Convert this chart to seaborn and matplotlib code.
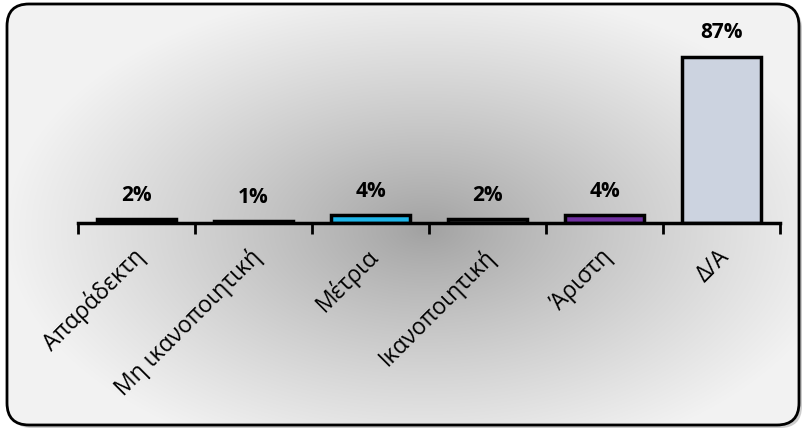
import numpy as np
import pandas as pd
import matplotlib
matplotlib.use("Agg")
import matplotlib.pyplot as plt
import matplotlib.transforms as mtransforms
import seaborn as sns
from matplotlib.patches import FancyBboxPatch

categories = ["Απαράδεκτη", "Μη ικανοποιητική", "Μέτρια", "Ικανοποιητική", "Άριστη", "Δ/Α"]
values = [2, 1, 4, 2, 4, 87]
value_labels = ["2%", "1%", "4%", "2%", "4%", "87%"]
bar_colors = ["#000000", "#262626", "#1FB5E8", "#3A3A3A", "#7030A0", "#CCD3E0"]

sns.set_theme(style="white")
plt.rcParams["font.family"] = ["Open Sans", "DejaVu Sans"]

W, H = 806, 431
fig = plt.figure(figsize=(W / 100, H / 100), dpi=100)
fig.patch.set_facecolor("white")

# background with radial gradient and rounded border
bg = fig.add_axes([0, 0, 1, 1], zorder=0)
bg.set_xlim(0, W)
bg.set_ylim(H, 0)
bg.axis("off")
yy, xx = np.mgrid[0:H, 0:W]
d = np.sqrt(((xx - 425) / 420) ** 2 + ((yy - 230) / 245) ** 2)
d = np.clip(d, 0, 1) ** 0.85
g = 0.63 + (0.95 - 0.63) * d
img = np.dstack([g, g, g])
clip = FancyBboxPatch((7, 5), 792, 421, boxstyle="round,pad=0,rounding_size=22",
                      transform=bg.transData, facecolor="none", edgecolor="none")
bg.add_patch(clip)
im = bg.imshow(img, extent=(0, W, H, 0), interpolation="bilinear", zorder=1)
im.set_clip_path(clip)
shadow = FancyBboxPatch((10, 8), 792, 421, boxstyle="round,pad=0,rounding_size=22",
                        facecolor="#9a9a9a", edgecolor="none", alpha=0.5, zorder=0.5)
bg.add_patch(shadow)
border = FancyBboxPatch((7, 5), 792, 421, boxstyle="round,pad=0,rounding_size=22",
                        facecolor="none", edgecolor="black", linewidth=2, zorder=3)
bg.add_patch(border)

# main axes
ax = fig.add_axes([78 / W, 1 - 224 / H, (780 - 78) / W, (224 - 33) / H], zorder=2)
ax.patch.set_alpha(0)
df = pd.DataFrame({"cat": categories, "val": values})
sns.barplot(data=df, x="cat", y="val", hue="cat", palette=bar_colors, legend=False,
            width=0.68, edgecolor="black", linewidth=2.5, ax=ax, saturation=1)
ax.set_ylim(0, 100)
ax.set_xlim(-0.5, len(categories) - 0.5)
ax.set_xlabel("")
ax.set_ylabel("")
ax.set_yticks([])
for s in ["left", "right", "top"]:
    ax.spines[s].set_visible(False)
ax.spines["bottom"].set_linewidth(2.5)
ax.spines["bottom"].set_color("black")

ax.set_xticks(range(len(categories)))
ax.set_xticklabels(categories, rotation=45, ha="right", va="center", rotation_mode="anchor",
                   fontsize=16.5, color="black")
ax.tick_params(axis="x", which="major", length=0, pad=0)
offset = mtransforms.ScaledTranslation(4 / 100, -29 / 100, fig.dpi_scale_trans)
for lab in ax.get_xticklabels():
    lab.set_transform(lab.get_transform() + offset)
ax.set_xticks(np.arange(-0.5, len(categories), 1), minor=True)
ax.tick_params(axis="x", which="minor", length=8, width=2, color="black", direction="out")
ax.xaxis.set_tick_params(which="minor", bottom=True)

for i, (v, lab) in enumerate(zip(values, value_labels)):
    ax.annotate(lab, (i, v), xytext=(0, 25), textcoords="offset pixels",
                ha="center", va="center", fontsize=15, fontweight="bold", color="black")

fig.savefig("out.png", dpi=100)
